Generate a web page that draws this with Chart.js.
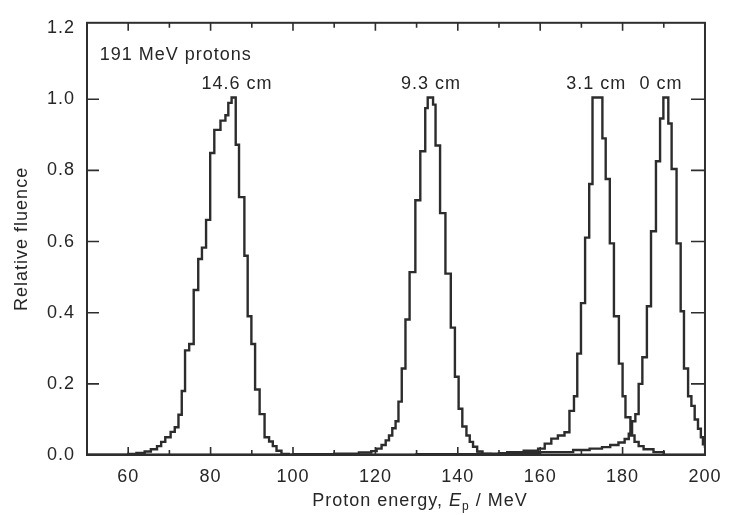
<!DOCTYPE html>
<html>
<head>
<meta charset="utf-8">
<title>191 MeV protons - relative fluence</title>
<script src="https://cdn.jsdelivr.net/npm/chart.js@4.4.1/dist/chart.umd.min.js"></script>
<style>
  html, body { margin: 0; padding: 0; background: #fff; }
  #wrap { width: 731px; height: 515px; }
</style>
</head>
<body>
<div id="wrap"><canvas id="grafico" width="731" height="515"></canvas></div>
<script>
// bin edges (MeV) and relative fluence in each bin
const energia146 = [50, 60, 62, 64, 65.5, 67, 68, 69, 70.3, 71.3, 72.2, 73, 73.8, 74.8, 75.9, 77.0, 77.9, 78.9, 79.9, 80.9, 82.4, 83.6, 84.3, 85.1, 86.1, 86.9, 88.2, 89.0, 89.9, 90.8, 91.9, 93.1, 94.2, 95.1, 96.0, 97.2, 99, 200];
const fluencia146 = [0, 0.003, 0.006, 0.01, 0.016, 0.025, 0.037, 0.05, 0.065, 0.078, 0.113, 0.18, 0.294, 0.312, 0.464, 0.551, 0.583, 0.661, 0.849, 0.914, 0.94, 0.955, 0.99, 1.005, 0.872, 0.725, 0.56, 0.39, 0.312, 0.184, 0.115, 0.05, 0.038, 0.025, 0.012, 0.003, 0, 0];

const energia93 = [50, 100, 110, 116, 119, 120.3, 121.5, 122.5, 123.3, 124.1, 124.9, 125.6, 126.4, 127.3, 128.3, 129.7, 130.9, 132.1, 132.7, 134.0, 134.6, 135.7, 137.0, 138.3, 139.3, 140.2, 141.1, 142.1, 142.9, 143.7, 144.7, 146, 148, 200];
const fluencia93 = [0, 0.002, 0.004, 0.007, 0.011, 0.018, 0.028, 0.041, 0.055, 0.075, 0.095, 0.15, 0.243, 0.381, 0.514, 0.716, 0.854, 0.975, 1.005, 0.985, 0.87, 0.68, 0.51, 0.358, 0.22, 0.13, 0.08, 0.055, 0.037, 0.023, 0.01, 0.003, 0, 0];

const energia31 = [50, 130, 145, 152, 156, 159.5, 161.1, 162.7, 164.3, 165.9, 167.1, 168.2, 169.0, 169.9, 170.9, 171.9, 172.7, 175.1, 175.9, 176.9, 177.9, 179.1, 180.0, 180.7, 181.9, 182.9, 183.9, 185.1, 187.5, 190, 200];
const fluencia31 = [0, 0.002, 0.004, 0.008, 0.012, 0.018, 0.032, 0.046, 0.055, 0.064, 0.124, 0.165, 0.285, 0.427, 0.611, 0.762, 1.005, 0.89, 0.776, 0.595, 0.39, 0.257, 0.165, 0.106, 0.055, 0.037, 0.025, 0.016, 0.008, 0, 0];

const energia0 = [50, 140, 150, 160, 168, 172, 175, 177, 179, 180.5, 181.5, 182.3, 183.1, 183.9, 184.8, 185.9, 186.9, 188.1, 189.1, 189.9, 191.1, 191.9, 193.1, 194.1, 194.9, 195.9, 196.7, 197.5, 198.3, 199.0, 199.5, 200];
const fluencia0 = [0, 0.002, 0.005, 0.008, 0.014, 0.018, 0.022, 0.028, 0.035, 0.045, 0.06, 0.095, 0.115, 0.2, 0.275, 0.418, 0.629, 0.826, 0.946, 1.005, 0.932, 0.804, 0.595, 0.404, 0.243, 0.165, 0.138, 0.1, 0.074, 0.05, 0.03, 0.02];

const profundidades = ['14.6 cm', '9.3 cm', '3.1 cm', '0 cm'];
const picos = [86.4, 133.5, 173.6, 189.3]; // energy under each depth label

const xTicks = [60, 80, 100, 120, 140, 160, 180, 200];
const xMinor = [60, 70, 80, 90, 100, 110, 120, 130, 140, 150, 160, 170, 180, 190];
const yTicks = [0, 0.2, 0.4, 0.6, 0.8, 1.0, 1.2];

const FUENTE = '"Liberation Sans", Arial, Helvetica, sans-serif';
const TINTA = '#262626';

function serie(e, f) {
  return {
    data: e.map((x, i) => ({ x: x, y: f[i] })),
    stepped: true,
    borderColor: '#2c2c2c',
    borderWidth: 2.4,
    pointRadius: 0,
    fill: false,
  };
}

// the scanned lettering is wider than Arial, so space the letters a little
const espaciado = {
  id: 'espaciado',
  beforeDraw(chart) { chart.ctx.letterSpacing = '1px'; },
};

// frame with inward ticks, annotations and axis titles
const marco = {
  id: 'marco',
  afterDatasetsDraw(chart) {
    const { ctx, chartArea: a, scales: { x, y } } = chart;
    ctx.save();
    ctx.letterSpacing = '1px';
    ctx.strokeStyle = '#2e2e2e';
    ctx.lineWidth = 2;
    ctx.strokeRect(a.left, a.top, a.right - a.left, a.bottom - a.top);

    ctx.lineWidth = 1.6;
    ctx.beginPath();
    xMinor.forEach((v) => {
      const px = x.getPixelForValue(v);
      const len = v % 20 === 0 ? 8 : 5;
      ctx.moveTo(px, a.bottom); ctx.lineTo(px, a.bottom - len);
      ctx.moveTo(px, a.top); ctx.lineTo(px, a.top + len);
    });
    yTicks.slice(1, -1).forEach((v) => {
      const py = y.getPixelForValue(v);
      ctx.moveTo(a.left, py); ctx.lineTo(a.left + 12, py);
      ctx.moveTo(a.right, py); ctx.lineTo(a.right - 14, py);
    });
    ctx.stroke();

    ctx.fillStyle = TINTA;
    ctx.font = '18px ' + FUENTE;
    ctx.textBaseline = 'alphabetic';
    ctx.textAlign = 'left';
    ctx.fillText('191 MeV protons', x.getPixelForValue(53.1), y.getPixelForValue(1.11));
    ctx.textAlign = 'center';
    profundidades.forEach((t, i) => {
      ctx.fillText(t, x.getPixelForValue(picos[i]), y.getPixelForValue(1.03));
    });

    // y title
    ctx.save();
    ctx.translate(22, (a.top + a.bottom) / 2);
    ctx.rotate(-Math.PI / 2);
    ctx.textAlign = 'center';
    ctx.textBaseline = 'middle';
    ctx.fillText('Relative fluence', 0, 0);
    ctx.restore();

    // x title: Proton energy, E_p / MeV
    const normal = '18px ' + FUENTE;
    const italica = 'italic 18px ' + FUENTE;
    const sub = '12px ' + FUENTE;
    const partes = [
      ['Proton energy, ', normal, 0],
      ['E', italica, 0],
      ['p', sub, 4],
      [' / MeV', normal, 0],
    ];
    let ancho = 0;
    partes.forEach((p) => { ctx.font = p[1]; ancho += ctx.measureText(p[0]).width; });
    let cx = 420 - ancho / 2;
    const base = 506;
    ctx.textAlign = 'left';
    ctx.textBaseline = 'alphabetic';
    partes.forEach((p) => {
      ctx.font = p[1];
      ctx.fillText(p[0], cx, base + p[2]);
      cx += ctx.measureText(p[0]).width;
    });
    ctx.restore();
  },
};

new Chart(document.getElementById('grafico'), {
  type: 'line',
  data: {
    datasets: [
      serie(energia146, fluencia146),
      serie(energia93, fluencia93),
      serie(energia31, fluencia31),
      serie(energia0, fluencia0),
    ],
  },
  options: {
    responsive: false,
    animation: false,
    devicePixelRatio: 1,
    layout: { padding: { top: 14, right: 19, left: 0, bottom: 0 } },
    plugins: { legend: { display: false }, tooltip: { enabled: false } },
    scales: {
      x: {
        type: 'linear',
        min: 50,
        max: 200,
        afterBuildTicks: (s) => { s.ticks = xTicks.map((v) => ({ value: v })); },
        afterFit: (s) => { s.height = 60; },
        grid: { display: false, drawTicks: false },
        border: { display: false },
        ticks: { padding: 11, color: TINTA, font: { family: FUENTE, size: 18 }, maxRotation: 0 },
      },
      y: {
        min: 0,
        max: 1.215,
        afterBuildTicks: (s) => { s.ticks = yTicks.map((v) => ({ value: v })); },
        afterFit: (s) => { s.width = 87; },
        grid: { display: false, drawTicks: false },
        border: { display: false },
        ticks: {
          padding: 12,
          color: TINTA,
          font: { family: FUENTE, size: 18 },
          callback: (v) => Number(v).toFixed(1),
        },
      },
    },
  },
  plugins: [espaciado, marco],
});
</script>
</body>
</html>
